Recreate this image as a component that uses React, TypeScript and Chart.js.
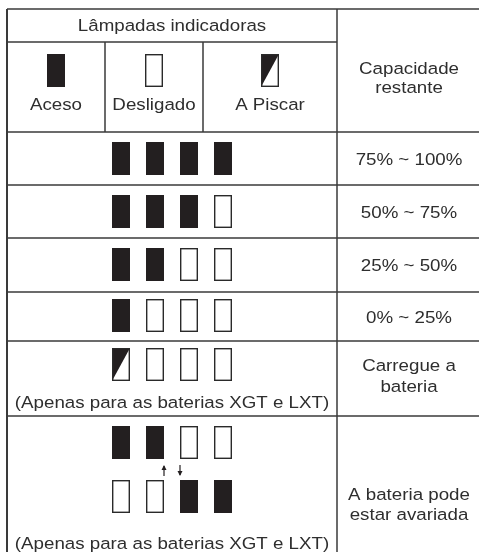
import React, { useEffect, useRef } from "react";
import { Chart, registerables } from "chart.js";

Chart.register(...registerables);

// ---- content data ----
const headerTitle = "Lâmpadas indicadoras";
const legendLabels = ["Aceso", "Desligado", "A Piscar"];
const legendStates = ["on", "off", "blink"];
const capacityHeader = ["Capacidade", "restante"];
const rowStates = [
  ["on", "on", "on", "on"],
  ["on", "on", "on", "off"],
  ["on", "on", "off", "off"],
  ["on", "off", "off", "off"],
  ["blink", "off", "off", "off"],
];
const rowCapacity = [
  ["75% ~ 100%"],
  ["50% ~ 75%"],
  ["25% ~ 50%"],
  ["0% ~ 25%"],
  ["Carregue a", "bateria"],
];
const faultTop = ["on", "on", "off", "off"];
const faultBottom = ["off", "off", "on", "on"];
const faultText = ["A bateria pode", "estar avariada"];
const noteText = "(Apenas para as baterias XGT e LXT)";

// ---- layout (table units == pixels) ----
const W = 479;
const H = 552;
const LEFT = 7;
const TOP = 9;
const RIGHT = 481;
const BOTTOM = 558;
const COL_MAIN = 337;
const COL_LEG = [105, 203];
const ROW_TITLE = 42;
const ROW_LINES = [132, 185, 238, 292, 341, 416];
const LAMP_W = 18;
const LAMP_H = 33;
const LAMP_CX = [121, 155, 189, 223];
const INK = "#231f20";
const TEXT_INK = "#2e2e2e";
const LINE = "#3a3a3a";
const FONT = '16.3px "Liberation Sans", Arial, sans-serif';
const SX = 1.15;

const tablePlugin = {
  id: "tablePlugin",
  afterDraw(chart: any) {
    const ctx = chart.ctx as CanvasRenderingContext2D;
    const xs = chart.scales.x;
    const ys = chart.scales.y;
    const px = (v: number) => xs.getPixelForValue(v);
    const py = (v: number) => ys.getPixelForValue(v);

    ctx.save();
    ctx.fillStyle = "#ffffff";
    ctx.fillRect(0, 0, chart.width, chart.height);

    const hline = (y: number, x1: number, x2: number, w = 1.5) => {
      ctx.beginPath();
      ctx.lineWidth = w;
      ctx.strokeStyle = LINE;
      ctx.moveTo(px(x1), py(y));
      ctx.lineTo(px(x2), py(y));
      ctx.stroke();
    };
    const vline = (x: number, y1: number, y2: number, w = 1.5) => {
      ctx.beginPath();
      ctx.lineWidth = w;
      ctx.strokeStyle = LINE;
      ctx.moveTo(px(x), py(y1));
      ctx.lineTo(px(x), py(y2));
      ctx.stroke();
    };
    const text = (s: string, cx: number, by: number) => {
      ctx.save();
      ctx.font = FONT;
      ctx.fillStyle = TEXT_INK;
      ctx.textAlign = "center";
      ctx.textBaseline = "alphabetic";
      ctx.translate(px(cx), py(by));
      ctx.scale(SX, 1);
      ctx.fillText(s, 0, 0);
      ctx.restore();
    };
    const lamp = (state: string, cx: number, top: number) => {
      const x0 = px(cx - LAMP_W / 2);
      const x1 = px(cx + LAMP_W / 2);
      const y0 = py(top);
      const y1 = py(top + LAMP_H);
      if (state === "on") {
        ctx.fillStyle = INK;
        ctx.fillRect(x0, y0, x1 - x0, y1 - y0);
        return;
      }
      ctx.fillStyle = "#ffffff";
      ctx.fillRect(x0, y0, x1 - x0, y1 - y0);
      if (state === "blink") {
        ctx.beginPath();
        ctx.moveTo(x0, y0);
        ctx.lineTo(x1, y0);
        ctx.lineTo(x0, y1);
        ctx.closePath();
        ctx.fillStyle = INK;
        ctx.fill();
      }
      ctx.lineWidth = 1.4;
      ctx.strokeStyle = "#2a2a2a";
      ctx.strokeRect(x0 + 0.7, y0 + 0.7, x1 - x0 - 1.4, y1 - y0 - 1.4);
    };
    const arrow = (cx: number, y1: number, y2: number, up: boolean) => {
      ctx.strokeStyle = INK;
      ctx.fillStyle = INK;
      ctx.lineWidth = 1.2;
      ctx.beginPath();
      ctx.moveTo(px(cx), py(y1));
      ctx.lineTo(px(cx), py(y2));
      ctx.stroke();
      const tip = up ? y1 - 1 : y2 + 1;
      const base = up ? y1 + 4 : y2 - 4;
      ctx.beginPath();
      ctx.moveTo(px(cx), py(tip));
      ctx.lineTo(px(cx - 2.5), py(base));
      ctx.lineTo(px(cx + 2.5), py(base));
      ctx.closePath();
      ctx.fill();
    };

    // grid
    hline(TOP, LEFT, RIGHT);
    hline(ROW_TITLE, LEFT, COL_MAIN);
    ROW_LINES.forEach((y) => hline(y, LEFT, RIGHT));
    vline(LEFT, TOP, BOTTOM, 2);
    vline(COL_MAIN, TOP, BOTTOM);
    COL_LEG.forEach((x) => vline(x, ROW_TITLE, ROW_LINES[0]));

    const leftCx = (LEFT + COL_MAIN) / 2;
    const rightCx = 409;

    // header
    text(headerTitle, leftCx, 31);
    const legCols = [LEFT, ...COL_LEG, COL_MAIN];
    legendLabels.forEach((lab, i) => {
      const cx = (legCols[i] + legCols[i + 1]) / 2;
      lamp(legendStates[i], cx, 54);
      text(lab, cx, 110);
    });
    text(capacityHeader[0], rightCx, 74);
    text(capacityHeader[1], rightCx, 93);

    // capacity rows
    const lampTops = [142, 195, 248, 299, 348];
    rowStates.forEach((states, r) => {
      states.forEach((s, i) => lamp(s, LAMP_CX[i], lampTops[r]));
      const lines = rowCapacity[r];
      if (lines.length === 1) {
        const cy = (ROW_LINES[r] + ROW_LINES[r + 1]) / 2;
        text(lines[0], rightCx, cy + 6);
      } else {
        text(lines[0], rightCx, 371);
        text(lines[1], rightCx, 392);
      }
    });
    text(noteText, leftCx, 408);

    // fault row
    faultTop.forEach((s, i) => lamp(s, LAMP_CX[i], 426));
    faultBottom.forEach((s, i) => lamp(s, LAMP_CX[i], 480));
    arrow(164, 466, 476, true);
    arrow(180, 465, 475, false);
    text(faultText[0], rightCx, 500);
    text(faultText[1], rightCx, 520);
    text(noteText, leftCx, 549);

    ctx.restore();
  },
};

export default function App() {
  const ref = useRef<HTMLCanvasElement | null>(null);
  useEffect(() => {
    document.body.style.margin = "0";
    const canvas = ref.current;
    if (!canvas) return;
    const chart = new Chart(canvas, {
      type: "scatter",
      data: { datasets: [{ data: [], showLine: false }] },
      options: {
        animation: false,
        responsive: false,
        maintainAspectRatio: false,
        devicePixelRatio: 1,
        layout: { padding: 0 },
        plugins: { legend: { display: false }, tooltip: { enabled: false }, title: { display: false } },
        scales: {
          x: { type: "linear", min: 0, max: W, display: false },
          y: { type: "linear", min: 0, max: H, reverse: true, display: false },
        },
      },
      plugins: [tablePlugin],
    } as any);
    return () => chart.destroy();
  }, []);
  return (
    <div style={{ position: "absolute", left: 0, top: 0, width: W, height: H, background: "#fff" }}>
      <canvas ref={ref} width={W} height={H} style={{ display: "block", width: W, height: H }} />
    </div>
  );
}
